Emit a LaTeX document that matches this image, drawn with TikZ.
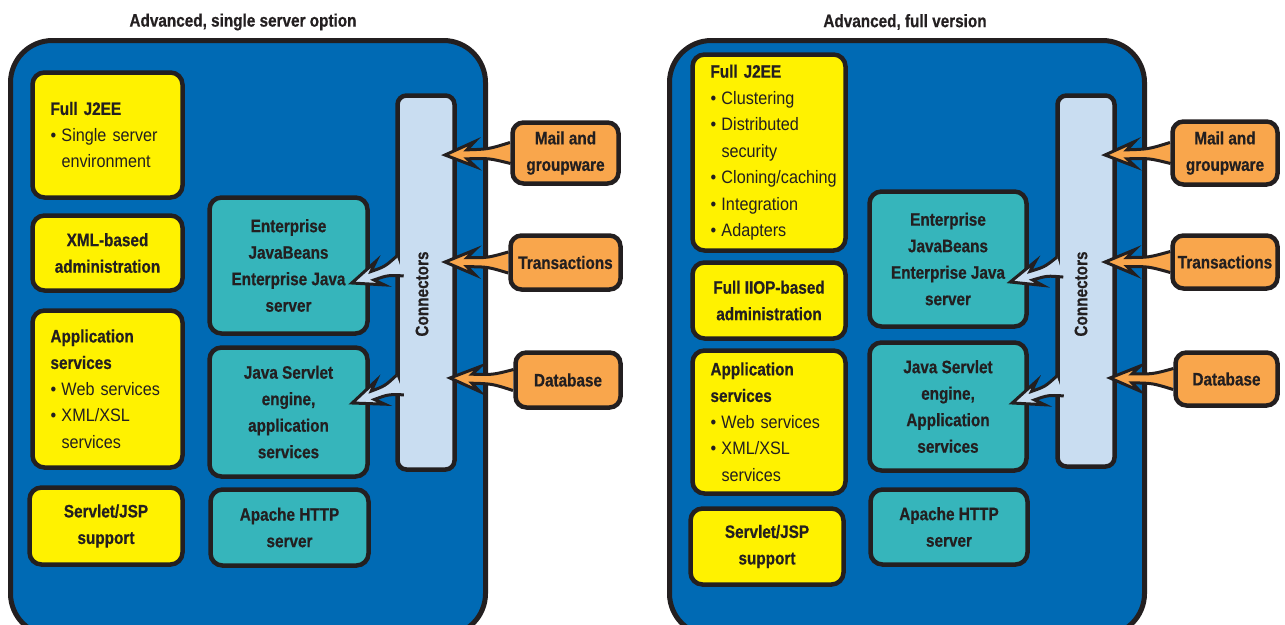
\documentclass[tikz,border=0pt]{standalone}
\usepackage{fontspec}
\setmainfont[FakeStretch=0.9,BoldFeatures={FakeStretch=0.85,FakeBold=0.6}]{Liberation Sans}
\usetikzlibrary{calc}

\pgfdeclarelayer{front}
\pgfsetlayers{main,front}

\definecolor{panelblue}{RGB}{0,106,180}
\definecolor{boxyellow}{RGB}{255,242,0}
\definecolor{boxteal}{RGB}{54,181,187}
\definecolor{connblue}{RGB}{201,221,241}
\definecolor{extorange}{RGB}{249,166,76}
\definecolor{ink}{RGB}{35,31,32}

\newcommand{\bul}{\makebox[11pt][l]{\textbullet}}
\newcommand{\ind}{\hspace*{11pt}}
\newcommand{\diagfont}{\fontsize{18pt}{26.5pt}\selectfont\hyphenpenalty=10000\relax}

% fat arrow: fill colour, tail, tip
\newcommand{\fatarrow}[3]{%
  \coordinate (fa-b) at ($(#3)!30pt!(#2)$);
  \coordinate (fa-n) at ($(#3)!22pt!(#2)$);
  \coordinate (fa-m) at ($(fa-n)!0.5!(#2)$);
  \draw[arrline,fill=#1]
    ($(#2)!10.5pt!90:(#3)$) .. controls ($(fa-m)!4.5pt!90:(#3)$) .. ($(fa-n)!4.5pt!90:(#3)$)
    -- ($(fa-b)!12.5pt!90:(#3)$) -- (#3) -- ($(fa-b)!12.5pt!-90:(#3)$)
    -- ($(fa-n)!4.5pt!-90:(#3)$) .. controls ($(fa-m)!4.5pt!-90:(#3)$) .. ($(#2)!10.5pt!-90:(#3)$);
}

\begin{document}
\begin{tikzpicture}[x=1pt,y=-1pt]
  \tikzstyle{panel}=[draw=ink,line width=5pt,fill=panelblue,rounded corners=42pt,inner sep=0pt]
  \tikzstyle{titletext}=[text=ink,font=\diagfont\bfseries]
  \tikzstyle{tile}=[draw=ink,line width=4.5pt,rounded corners=12pt,text=ink,font=\diagfont,inner sep=0pt]
  \tikzstyle{feature}=[tile,fill=boxyellow,align=left,inner xsep=18pt]
  \tikzstyle{featurec}=[tile,fill=boxyellow,align=center,font=\diagfont\bfseries]
  \tikzstyle{service}=[tile,fill=boxteal,align=center,font=\diagfont\bfseries]
  \tikzstyle{external}=[tile,fill=extorange,align=center,font=\diagfont\bfseries,rounded corners=11pt]
  \tikzstyle{connbar}=[draw=ink,line width=4.5pt,fill=connblue,rounded corners=9pt,inner sep=0pt]
  \tikzstyle{connlabel}=[rotate=90,text=ink,font=\diagfont\bfseries]
  \tikzstyle{arrline}=[draw=ink,line width=3pt,line join=miter]

  \useasboundingbox (0,0) rectangle (1285,624);

  % single server option
  \node[titletext] (titleA) at (243,22) {Advanced, single server option};
  \node[panel,minimum width=475pt,minimum height=595pt] (panelA) at (248,338) {};

  \node[feature,minimum width=150pt,minimum height=125pt,text width=114pt] (fullA) at (107.5,135)
    {\textbf{Full J2EE}\\\bul Single server\\\ind environment};
  \node[featurec,minimum width=150pt,minimum height=75pt] (xmlA) at (107.5,253)
    {XML-based\\administration};
  \node[feature,minimum width=150pt,minimum height=157pt,text width=114pt] (appA) at (107.5,389)
    {\textbf{Application}\\\textbf{services}\\\bul Web services\\\bul XML/XSL\\\ind services};
  \node[featurec,minimum width=153pt,minimum height=77pt] (jspA) at (106,526)
    {Servlet/JSP\\support};

  \node[service,minimum width=158pt,minimum height=136pt] (ejbA) at (288.5,265.5)
    {Enterprise\\JavaBeans\\Enterprise Java\\server};
  \node[service,minimum width=158pt,minimum height=129pt] (servA) at (288.5,412)
    {Java Servlet\\engine,\\application\\services};
  \node[service,minimum width=158pt,minimum height=76pt] (httpA) at (289.5,527.5)
    {Apache HTTP\\server};

  \node[connbar,minimum width=57pt,minimum height=374pt] (connA) at (426,282.5) {};
  \node[connlabel] (connA-label) at (422,294) {Connectors};

  \begin{pgfonlayer}{front}
    \node[external,minimum width=106pt,minimum height=61pt] (mailA) at (565.5,153) {Mail and\\groupware};
    \node[external,minimum width=110pt,minimum height=54pt] (transA) at (565.5,262.5) {Transactions};
    \node[external,minimum width=105pt,minimum height=55pt] (dbA) at (568,380) {Database};
  \end{pgfonlayer}

  \coordinate (ejbA-tail) at ($(connA.west)+(5,-16.5)$);
  \coordinate (ejbA-tip) at ($(ejbA.east)+(-18,17.5)$);
  \coordinate (servA-tail) at ($(connA.west)+(5,102.5)$);
  \coordinate (servA-tip) at ($(servA.east)+(-17.5,-9)$);
  \coordinate (mailA-tip) at (445,155);
  \coordinate (transA-tip) at (445,262);
  \coordinate (dbA-tip) at (450,378);

  \fatarrow{connblue}{ejbA-tail}{ejbA-tip}
  \fatarrow{connblue}{servA-tail}{servA-tip}
  \fatarrow{extorange}{mailA.west}{mailA-tip}
  \fatarrow{extorange}{transA.west}{transA-tip}
  \fatarrow{extorange}{dbA.west}{dbA-tip}

  % full version
  \node[titletext] (titleB) at (905,22) {Advanced, full version};
  \node[panel,minimum width=475pt,minimum height=595pt] (panelB) at (907,338) {};

  \node[feature,minimum width=153pt,minimum height=196pt,text width=117pt] (fullB) at (769,152.5)
    {\textbf{Full J2EE}\\\bul Clustering\\\bul Distributed\\\ind security\\\bul Cloning/caching\\\bul Integration\\\bul Adapters};
  \node[featurec,minimum width=153pt,minimum height=76pt] (iiopB) at (769,300.5)
    {Full IIOP-based\\administration};
  \node[feature,minimum width=153pt,minimum height=143pt,text width=117pt] (appB) at (769,422)
    {\textbf{Application}\\\textbf{services}\\\bul Web services\\\bul XML/XSL\\\ind services};
  \node[featurec,minimum width=153pt,minimum height=76pt] (jspB) at (767,546.5)
    {Servlet/JSP\\support};

  \node[service,minimum width=157pt,minimum height=135pt] (ejbB) at (948,259)
    {Enterprise\\JavaBeans\\Enterprise Java\\server};
  \node[service,minimum width=157pt,minimum height=128pt] (servB) at (948,406.5)
    {Java Servlet\\engine,\\Application\\services};
  \node[service,minimum width=157pt,minimum height=75pt] (httpB) at (949,527)
    {Apache HTTP\\server};

  \node[connbar,minimum width=57pt,minimum height=371pt] (connB) at (1086,281) {};
  \node[connlabel] (connB-label) at (1081,294) {Connectors};

  \begin{pgfonlayer}{front}
    \node[external,minimum width=105pt,minimum height=63pt] (mailB) at (1225,153) {Mail and\\groupware};
    \node[external,minimum width=105pt,minimum height=53pt] (transB) at (1225,262) {Transactions};
    \node[external,minimum width=102pt,minimum height=53pt] (dbB) at (1226.5,379) {Database};
  \end{pgfonlayer}

  \coordinate (ejbB-tail) at ($(connB.west)+(5,-14)$);
  \coordinate (ejbB-tip) at ($(ejbB.east)+(-18.5,23)$);
  \coordinate (servB-tail) at ($(connB.west)+(5,105)$);
  \coordinate (servB-tip) at ($(servB.east)+(-16.5,-3.5)$);
  \coordinate (mailB-tip) at (1105,155);
  \coordinate (transB-tip) at (1105,262);
  \coordinate (dbB-tip) at (1110,378);

  \fatarrow{connblue}{ejbB-tail}{ejbB-tip}
  \fatarrow{connblue}{servB-tail}{servB-tip}
  \fatarrow{extorange}{mailB.west}{mailB-tip}
  \fatarrow{extorange}{transB.west}{transB-tip}
  \fatarrow{extorange}{dbB.west}{dbB-tip}
\end{tikzpicture}
\end{document}
